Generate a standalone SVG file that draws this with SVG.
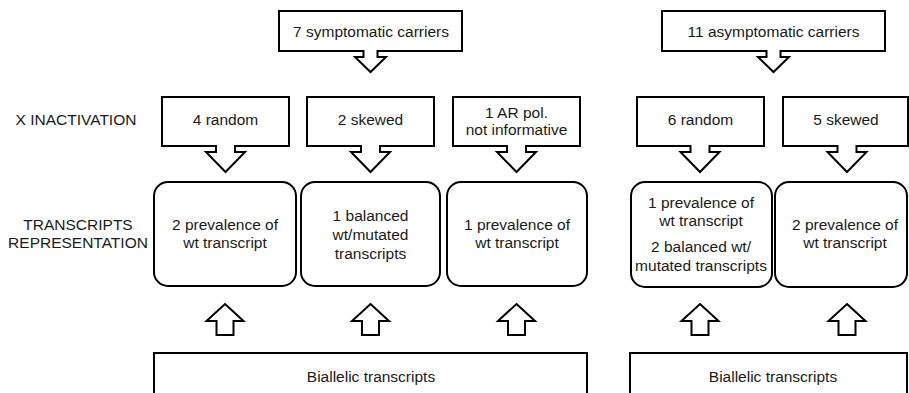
<svg xmlns="http://www.w3.org/2000/svg" width="909" height="393" viewBox="0 0 909 393">
<style>
.s{fill:#fff;stroke:#000;stroke-width:2;stroke-linejoin:miter}
.t{font-family:"Liberation Sans",Arial,sans-serif;font-size:15.5px;fill:#1a1a1a;text-anchor:middle}
</style>
<rect width="909" height="393" fill="#fff"/>
<g id="labels">
<text class="t" x="76" y="125">X INACTIVATION</text>
<text class="t" x="78" y="230">TRANSCRIPTS</text>
<text class="t" x="78" y="248">REPRESENTATION</text>
</g>
<g id="symptomatic">
<path class="s" d="M279,11 H462 V51 H377.5 V57 H386 L370.5,72 L355,57 H363.5 V51 H279 Z"/>
<text class="t" x="371" y="37">7 symptomatic carriers</text>
</g>
<g id="asymptomatic">
<path class="s" d="M662,11 H885 V51 H780.5 V57 H789 L773.5,72 L758,57 H766.5 V51 H662 Z"/>
<text class="t" x="773.5" y="37">11 asymptomatic carriers</text>
</g>
<g id="s-random">
<path class="s" d="M162,97 H289 V146 H235 V152 H245 L225.5,172 L206,152 H216 V146 H162 Z"/>
<text class="t" x="225.5" y="125">4 random</text>
</g>
<g id="s-skewed">
<path class="s" d="M307,97 H434 V146 H380 V152 H390 L370.5,172 L351,152 H361 V146 H307 Z"/>
<text class="t" x="370.5" y="125">2 skewed</text>
</g>
<g id="s-ar">
<path class="s" d="M453,97 H580 V146 H526 V152 H536 L516.5,172 L497,152 H507 V146 H453 Z"/>
<text class="t" x="516.5" y="118">1 AR pol.</text>
<text class="t" x="516.5" y="135">not informative</text>
</g>
<g id="a-random">
<path class="s" d="M637,97 H764 V146 H709.5 V152 H719.5 L700,172 L680.5,152 H690.5 V146 H637 Z"/>
<text class="t" x="700.5" y="125">6 random</text>
</g>
<g id="a-skewed">
<path class="s" d="M783,97 H908 V146 H856.5 V152 H866.5 L847,172 L827.5,152 H837.5 V146 H783 Z"/>
<text class="t" x="846" y="125">5 skewed</text>
</g>
<g id="t1">
<rect class="s" x="154" y="182" width="142" height="104" rx="14"/>
<text class="t" x="225" y="230">2 prevalence of</text>
<text class="t" x="225" y="248">wt transcript</text>
</g>
<g id="t2">
<rect class="s" x="301" y="182" width="139" height="104" rx="14"/>
<text class="t" x="370.5" y="221">1 balanced</text>
<text class="t" x="370.5" y="240">wt/mutated</text>
<text class="t" x="370.5" y="259">transcripts</text>
</g>
<g id="t3">
<rect class="s" x="447" y="182" width="140" height="104" rx="14"/>
<text class="t" x="517" y="230">1 prevalence of</text>
<text class="t" x="517" y="248">wt transcript</text>
</g>
<g id="t4">
<rect class="s" x="631" y="182" width="141" height="105" rx="14"/>
<text class="t" x="701" y="208">1 prevalence of</text>
<text class="t" x="701" y="226">wt transcript</text>
<text class="t" x="701" y="252">2 balanced wt/</text>
<text class="t" x="701" y="271">mutated transcripts</text>
</g>
<g id="t5">
<rect class="s" x="775" y="182" width="132" height="105" rx="14"/>
<text class="t" x="845" y="230">2 prevalence of</text>
<text class="t" x="845" y="248">wt transcript</text>
</g>
<g id="b1">
<rect class="s" x="154" y="353" width="433" height="60"/>
<text class="t" x="371" y="382">Biallelic transcripts</text>
</g>
<g id="b2">
<rect class="s" x="630" y="353" width="277" height="60"/>
<text class="t" x="773" y="382">Biallelic transcripts</text>
</g>
<g id="connectors">
<path class="s" d="M225,304 L243.5,321 H233.5 V335 H216.5 V321 H206.5 Z"/>
<path class="s" d="M370.5,304 L389,321 H379 V335 H362 V321 H352 Z"/>
<path class="s" d="M516.5,304 L535,321 H525 V335 H508 V321 H498 Z"/>
<path class="s" d="M700,304 L718.5,321 H708.5 V335 H691.5 V321 H681.5 Z"/>
<path class="s" d="M847,304 L865.5,321 H855.5 V335 H838.5 V321 H828.5 Z"/>
</g>
</svg>
